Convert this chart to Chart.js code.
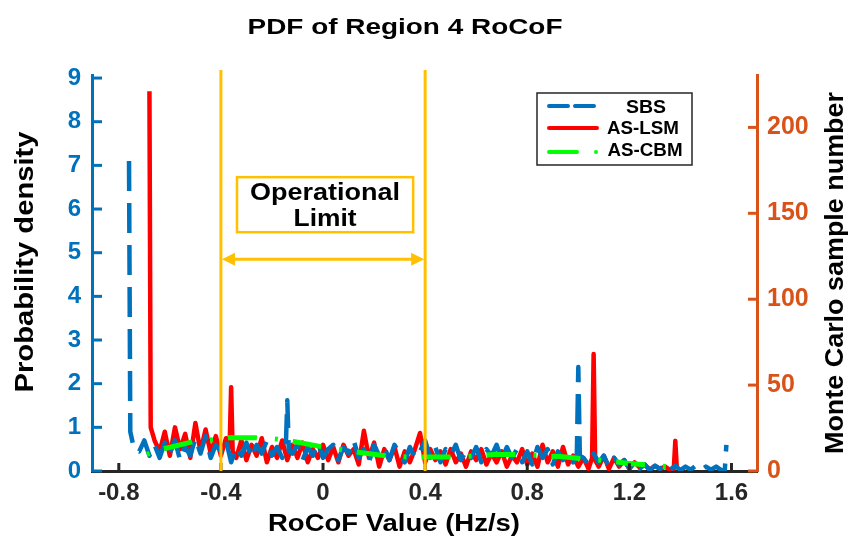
<!DOCTYPE html>
<html>
<head>
<meta charset="utf-8">
<script src="https://cdn.jsdelivr.net/npm/chart.js@4"></script>
<style>
  html, body { margin: 0; padding: 0; background: #fff; }
  #wrap { width: 851px; height: 542px; }
</style>
</head>
<body>
<div id="wrap"><canvas id="chart" width="851" height="542"></canvas></div>
<script>
// ---------- data ----------
// shared RoCoF grid (extra points sit next to the narrow spikes)
const rocof = [
  -0.76,-0.755,-0.74,-0.72,-0.70,-0.68,-0.675,-0.66,-0.64,-0.62,-0.60,-0.58,
  -0.56,-0.54,-0.52,-0.50,-0.48,-0.46,-0.44,-0.42,-0.40,-0.38,
  -0.366,-0.36,-0.354,-0.34,-0.32,-0.30,-0.28,-0.26,-0.24,-0.22,-0.20,-0.18,
  -0.16,-0.146,-0.14,-0.134,-0.12,-0.10,-0.08,-0.06,-0.04,-0.02,0.00,0.02,
  0.04,0.06,0.08,0.10,0.12,0.14,0.16,0.18,0.20,0.22,
  0.24,0.26,0.28,0.30,0.32,0.34,0.36,0.38,0.40,0.42,
  0.44,0.46,0.48,0.50,0.52,0.54,0.56,0.58,0.60,0.62,
  0.64,0.66,0.68,0.70,0.72,0.74,0.76,0.78,0.80,0.82,
  0.84,0.86,0.88,0.90,0.92,0.94,0.96,0.98,0.994,1.00,1.006,1.02,
  1.04,1.054,1.06,1.066,1.08,1.10,1.12,1.14,1.16,1.18,1.20,1.22,
  1.24,1.26,1.28,1.30,1.32,1.34,1.36,1.374,1.38,1.386,1.40,1.42,
  1.44,1.46,1.48,1.50,1.52,1.54,1.56,1.574,1.58
];

// SBS (blue dashed)
const sbsDensity = [
  7.1,0.9,0.5,0.45,0.7,0.35,null,0.6,0.3,0.65,0.4,0.7,
  0.25,0.55,0.35,0.75,0.4,0.8,0.3,0.6,0.45,0.7,
  null,0.2,null,0.55,0.35,0.65,0.3,0.6,0.4,0.7,0.35,0.55,
  0.3,0.5,1.62,0.45,0.4,0.6,0.25,0.55,0.35,0.65,0.3,0.5,
  0.6,0.25,0.55,0.4,0.7,0.3,0.5,0.2,0.6,0.35,
  0.55,0.25,0.6,0.4,0.2,0.55,0.3,0.45,0.7,0.3,
  0.55,0.2,0.5,0.35,0.6,0.25,0.45,0.3,0.55,0.2,
  0.5,0.35,0.6,0.25,0.55,0.3,0.5,0.2,0.45,0.15,
  0.55,0.3,0.5,0.15,0.45,0.25,0.4,0.2,0.3,2.38,0.35,0.3,
  0.15,null,0.4,null,0.2,0.35,0.1,0.3,0.15,0.25,0.05,0.2,
  0.05,0.15,0.02,0.12,0.05,0.15,0.03,null,0.12,null,0.02,0.1,
  0.03,0.12,0.02,0.1,0.03,0.1,0.02,0.03,0.6
];

// AS-LSM (red solid)
const lsmDensity = [
  null,null,null,null,null,8.7,1.0,0.7,0.45,0.9,0.35,1.0,
  0.5,0.85,0.3,1.1,0.45,0.95,0.4,0.8,0.35,0.75,
  0.55,1.92,0.45,0.3,0.7,0.25,0.6,0.35,0.75,0.2,0.55,0.3,
  0.7,null,0.25,null,0.6,0.3,0.65,0.2,0.5,0.3,0.6,0.25,
  0.55,0.2,0.6,0.35,0.5,0.15,0.92,0.3,0.65,0.1,
  0.5,0.25,0.55,0.1,0.45,0.2,0.5,0.87,0.2,0.5,
  0.25,0.45,0.15,0.5,0.2,0.4,0.1,0.45,0.25,0.5,
  0.15,0.4,0.2,0.45,0.1,0.35,0.2,0.5,0.15,0.4,
  0.1,0.6,0.2,0.45,0.1,0.55,0.15,0.35,null,0.1,null,0.3,
  0.05,0.3,2.68,0.25,0.1,0.35,0.05,0.3,0.1,0.25,0.05,0.2,
  0.08,0.15,0.03,0.12,0.05,0.1,0.02,0.05,0.69,0.05,null,null,
  null,null,null,null,null,null,null,null,null
];

// AS-CBM (green dash-dot, smooth)
const cbmX = [-0.69,-0.63,-0.51,-0.44,-0.37,-0.26,-0.18,-0.11,0.00,0.08,0.15,0.26,0.33,0.41,0.52,0.60,0.67,0.77,0.86,0.93,1.04,1.12,1.19,1.31,1.38];
const cbmY = [0.38,0.50,0.67,0.71,0.76,0.76,0.73,0.67,0.55,0.48,0.42,0.34,0.32,0.32,0.32,0.35,0.38,0.38,0.35,0.33,0.27,0.23,0.18,0.12,0.08];

const xTicks = [-0.8, -0.4, 0, 0.4, 0.8, 1.2, 1.6];
const yTicks = [0, 1, 2, 3, 4, 5, 6, 7, 8, 9];
const y2Ticks = [0, 50, 100, 150, 200];
const opLimits = [-0.4, 0.4];

const BLUE = "#0072BD";
const RED = "#FF0000";
const GREEN = "#00FF00";
const ORANGE = "#D95319";
const YELLOW = "#FFC000";
const DARK = "#262626";
const FONT = "'Liberation Sans', Arial, sans-serif";

const pts = (xs, ys) => xs.map((v, i) => ({ x: v, y: ys[i] }));

// text squeezed/stretched to a target width
function fitText(ctx, text, cx, cy, w, size, color, rot) {
  ctx.save();
  ctx.translate(cx, cy);
  if (rot) ctx.rotate(rot);
  ctx.font = `bold ${size}px ${FONT}`;
  const m = ctx.measureText(text).width;
  ctx.scale(w / m, 1);
  ctx.fillStyle = color;
  ctx.textAlign = "center";
  ctx.textBaseline = "middle";
  ctx.fillText(text, 0, 0);
  ctx.restore();
}

const decor = {
  id: "decor",
  afterDatasetsDraw(chart) {
    const { ctx, chartArea: a, scales: { x, y, y2 } } = chart;
    ctx.save();
    ctx.lineCap = "butt";

    // inward tick marks
    ctx.lineWidth = 3;
    ctx.strokeStyle = BLUE;
    yTicks.forEach(v => {
      const p = y.getPixelForValue(v);
      ctx.beginPath(); ctx.moveTo(a.left, p); ctx.lineTo(a.left + 10, p); ctx.stroke();
    });
    ctx.strokeStyle = ORANGE;
    y2Ticks.forEach(v => {
      const p = y2.getPixelForValue(v);
      ctx.beginPath(); ctx.moveTo(a.right, p); ctx.lineTo(a.right - 9, p); ctx.stroke();
    });
    ctx.strokeStyle = DARK;
    xTicks.forEach(v => {
      const p = x.getPixelForValue(v);
      ctx.beginPath(); ctx.moveTo(p, a.bottom); ctx.lineTo(p, a.bottom - 8); ctx.stroke();
    });

    // operational limit lines
    ctx.strokeStyle = YELLOW;
    ctx.lineWidth = 3;
    const xl = x.getPixelForValue(opLimits[0]);
    const xr = x.getPixelForValue(opLimits[1]);
    [xl, xr].forEach(p => {
      ctx.beginPath(); ctx.moveTo(p, a.top - 5); ctx.lineTo(p, a.bottom); ctx.stroke();
    });

    // double arrow
    const ay = y.getPixelForValue(4.85);
    ctx.lineWidth = 3;
    ctx.beginPath(); ctx.moveTo(xl + 6, ay); ctx.lineTo(xr - 6, ay); ctx.stroke();
    ctx.fillStyle = YELLOW;
    ctx.beginPath(); ctx.moveTo(xl + 1, ay); ctx.lineTo(xl + 14, ay - 6.5); ctx.lineTo(xl + 14, ay + 6.5); ctx.closePath(); ctx.fill();
    ctx.beginPath(); ctx.moveTo(xr - 1, ay); ctx.lineTo(xr - 14, ay - 6.5); ctx.lineTo(xr - 14, ay + 6.5); ctx.closePath(); ctx.fill();

    // label box
    const bx0 = x.getPixelForValue(-0.337), bx1 = x.getPixelForValue(0.353);
    const by0 = y.getPixelForValue(6.73), by1 = y.getPixelForValue(5.47);
    ctx.fillStyle = "#fff";
    ctx.fillRect(bx0, by0, bx1 - bx0, by1 - by0);
    ctx.lineWidth = 2.5;
    ctx.strokeRect(bx0, by0, bx1 - bx0, by1 - by0);
    const bcx = (bx0 + bx1) / 2;
    fitText(ctx, "Operational", bcx, by0 + 16, 150, 23, "#000");
    fitText(ctx, "Limit", bcx, by0 + 42, 63, 23, "#000");
    ctx.restore();
  },
  afterDraw(chart) {
    const { ctx } = chart;
    ctx.save();
    // titles
    fitText(ctx, "PDF of Region 4 RoCoF", 405, 28, 315, 22, "#000");
    fitText(ctx, "RoCoF Value (Hz/s)", 394, 525, 252, 23, "#000");
    fitText(ctx, "Probability density", 26, 262, 261, 25, "#000", -Math.PI / 2);
    fitText(ctx, "Monte Carlo sample number", 836, 273, 362, 25, "#000", -Math.PI / 2);

    // legend
    ctx.fillStyle = "#fff";
    ctx.fillRect(537, 93, 155, 72);
    ctx.strokeStyle = DARK;
    ctx.lineWidth = 1.5;
    ctx.strokeRect(537, 93, 155, 72);
    ctx.lineCap = "round";
    ctx.lineWidth = 4;
    ctx.strokeStyle = BLUE;
    ctx.beginPath(); ctx.moveTo(549, 106); ctx.lineTo(568, 106); ctx.moveTo(575, 106); ctx.lineTo(594, 106); ctx.stroke();
    ctx.strokeStyle = RED;
    ctx.beginPath(); ctx.moveTo(549, 128); ctx.lineTo(597, 128); ctx.stroke();
    ctx.strokeStyle = GREEN;
    ctx.beginPath(); ctx.moveTo(549, 152); ctx.lineTo(577, 152); ctx.stroke();
    ctx.fillStyle = GREEN;
    ctx.beginPath(); ctx.arc(596, 152, 2, 0, Math.PI * 2); ctx.fill();
    fitText(ctx, "SBS", 646, 108, 40, 19, "#000");
    fitText(ctx, "AS-LSM", 643, 129, 72, 19, "#000");
    fitText(ctx, "AS-CBM", 645, 151, 75, 19, "#000");
    ctx.restore();
  }
};

const tickFont = size => ({ family: FONT, size, weight: "bold" });

new Chart(document.getElementById("chart"), {
  type: "line",
  data: {
    datasets: [
      {
        label: "AS-CBM",
        data: pts(cbmX, cbmY),
        borderColor: GREEN,
        borderWidth: 5,
        borderDash: [3, 15, 29, 18],
        pointRadius: 0,
        tension: 0,
        yAxisID: "y",
        order: 0
      },
      {
        label: "SBS",
        data: pts(rocof, sbsDensity),
        borderColor: BLUE,
        borderWidth: 4.5,
        borderDash: [30, 12],
        borderJoinStyle: "round",
        pointRadius: 0,
        tension: 0,
        yAxisID: "y",
        order: 1
      },
      {
        label: "AS-LSM",
        data: pts(rocof, lsmDensity),
        borderColor: RED,
        borderWidth: 4.5,
        borderJoinStyle: "round",
        pointRadius: 0,
        tension: 0,
        yAxisID: "y",
        order: 2
      }
    ]
  },
  options: {
    responsive: false,
    animation: false,
    spanGaps: true,
    layout: { padding: { top: 75, left: 0, right: 0, bottom: 0 } },
    plugins: { legend: { display: false }, title: { display: false }, tooltip: { enabled: false } },
    scales: {
      x: {
        type: "linear",
        min: -0.905,
        max: 1.70,
        afterBuildTicks: s => { s.ticks = xTicks.map(v => ({ value: v })); },
        afterFit: s => { s.height = 71; },
        grid: { display: true, drawOnChartArea: false, drawTicks: false },
        border: { display: true, color: DARK, width: 3 },
        ticks: {
          color: DARK,
          font: tickFont(24),
          padding: 8,
          maxRotation: 0,
          autoSkip: false,
          callback: v => (v === 0 ? "0" : v.toFixed(1))
        }
      },
      y: {
        type: "linear",
        position: "left",
        min: 0,
        max: 9.07,
        afterBuildTicks: s => { s.ticks = yTicks.map(v => ({ value: v })); },
        afterFit: s => { s.width = 92; },
        grid: { display: true, drawOnChartArea: false, drawTicks: false },
        border: { display: true, color: BLUE, width: 3 },
        ticks: { color: BLUE, font: tickFont(24), padding: 11, autoSkip: false }
      },
      y2: {
        type: "linear",
        position: "right",
        min: 0,
        max: 230.5,
        afterBuildTicks: s => { s.ticks = y2Ticks.map(v => ({ value: v })); },
        afterFit: s => { s.width = 94; },
        grid: { display: true, drawOnChartArea: false, drawTicks: false },
        border: { display: true, color: ORANGE, width: 3 },
        ticks: { color: ORANGE, font: tickFont(25), padding: 10, autoSkip: false }
      }
    }
  },
  plugins: [decor]
});
</script>
</body>
</html>
